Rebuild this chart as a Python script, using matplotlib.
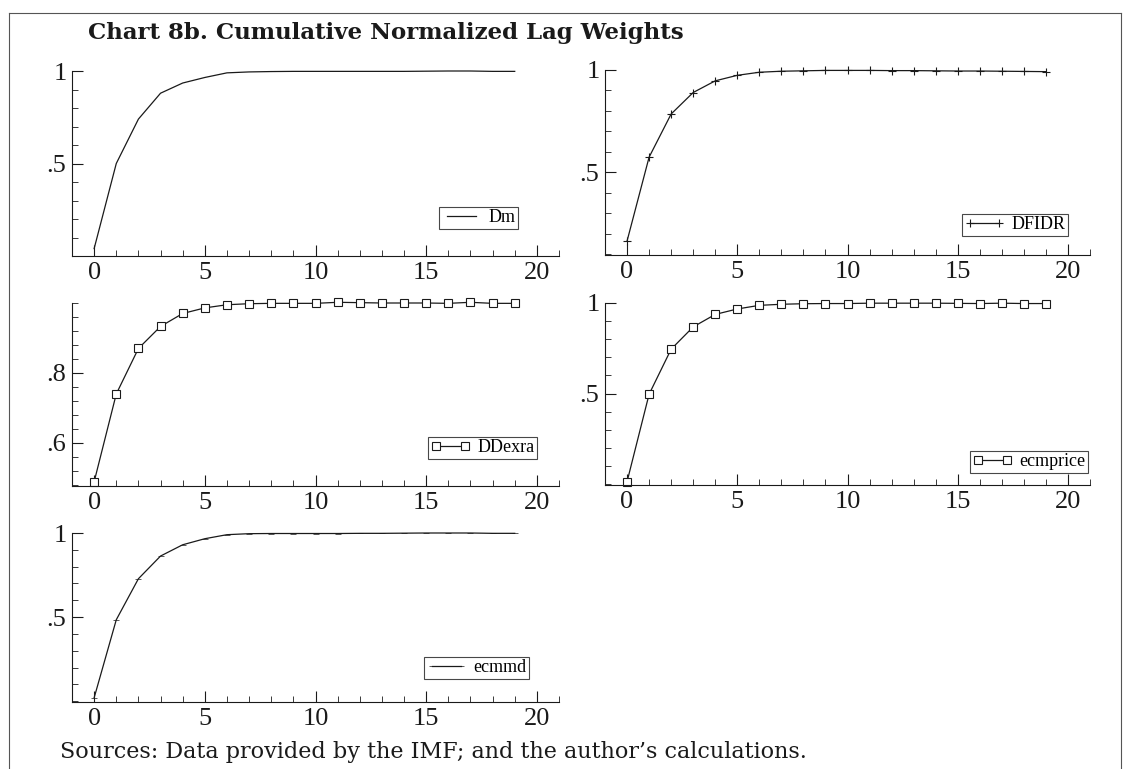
import numpy as np
import matplotlib
matplotlib.use("Agg")
import matplotlib.pyplot as plt
from matplotlib.ticker import MultipleLocator, FixedLocator
from matplotlib.lines import Line2D

lags = list(range(20))

dm = [0.04, 0.50, 0.74, 0.88, 0.935, 0.965, 0.99, 0.995, 0.997, 0.998,
      0.998, 0.998, 0.998, 0.998, 0.998, 0.999, 1.0, 1.0, 0.998, 0.998]
dfidr = [0.164, 0.574, 0.785, 0.89, 0.947, 0.974, 0.989, 0.994, 0.996, 0.998,
         0.998, 0.998, 0.997, 0.997, 0.996, 0.995, 0.995, 0.994, 0.993, 0.992]
ddexra = [0.489, 0.74, 0.870, 0.933, 0.970, 0.986, 0.995, 0.998, 0.999, 0.999,
          0.999, 1.002, 1.001, 1.0, 1.0, 1.0, 0.999, 1.002, 0.999, 0.999]
ecmprice = [0.013, 0.496, 0.745, 0.868, 0.937, 0.967, 0.987, 0.993, 0.996, 0.997,
            0.997, 0.999, 0.999, 0.999, 0.999, 0.998, 0.997, 0.999, 0.997, 0.997]
ecmmd = [0.02, 0.484, 0.728, 0.863, 0.93, 0.966, 0.99, 0.996, 0.997, 0.997,
         0.997, 0.997, 0.998, 0.998, 0.999, 1.0, 1.0, 1.0, 0.998, 0.998]

W, H = 1127, 769
fig = plt.figure(figsize=(W / 100, H / 100), dpi=100)
fig.patch.set_facecolor("white")

tickfont = "Liberation Serif"
ink = "#1a1a1a"


def px_axes(x0, x1, ytop, ybot):
    return fig.add_axes([x0 / W, 1 - ybot / H, (x1 - x0) / W, (ybot - ytop) / H])


# name, data, marker, pixel box, ylim, major ticks, tick labels, minor step, legend corner (px)
panels = [
    ("Dm", dm, None, (72, 559, 71, 256), (0.0, 1.0), [0.5, 1.0], [".5", "1"], 0.1, (518, 229)),
    ("DFIDR", dfidr, "+", (605, 1090, 70, 255), (0.096, 1.0), [0.5, 1.0], [".5", "1"], 0.1, (1068, 236)),
    ("DDexra", ddexra, "s", (72, 559, 303, 486), (0.477, 1.0), [0.6, 0.8], [".6", ".8"], 0.04, (537, 459)),
    ("ecmprice", ecmprice, "s", (605, 1090, 303, 485), (-0.005, 1.0), [0.5, 1.0], [".5", "1"], 0.1, (1088, 473)),
    ("ecmmd", ecmmd, "_", (72, 559, 533, 702), (-0.005, 1.0), [0.5, 1.0], [".5", "1"], 0.1, (529, 679)),
]

for name, vals, mk, box, ylim, yt, ytl, ystep, leg in panels:
    x0, x1, ytop, ybot = box
    ax = px_axes(x0, x1, ytop, ybot)
    kw = dict(color=ink, lw=0.9, label=name, clip_on=False)
    if mk == "s":
        kw.update(marker="s", ms=5.5, mfc="white", mec=ink, mew=0.8)
    elif mk == "+":
        kw.update(marker="+", ms=6, mew=0.8)
    elif mk == "_":
        kw.update(marker="_", ms=4.5, mew=0.5)
    ax.plot(lags, vals, **kw)

    ax.set_xlim(-1, 21)
    ax.set_ylim(*ylim)
    for s in ("top", "right"):
        ax.spines[s].set_visible(False)
    for s in ("left", "bottom"):
        ax.spines[s].set_linewidth(0.8)
        ax.spines[s].set_color(ink)

    ax.set_xticks([0, 5, 10, 15, 20])
    ax.xaxis.set_minor_locator(MultipleLocator(1))
    ax.set_yticks(yt)
    ax.set_yticklabels(ytl)
    lo = np.ceil((ylim[0] - 0.6) / ystep) * ystep + 0.6
    ax.yaxis.set_minor_locator(FixedLocator(np.arange(lo, ylim[1] + 1e-6, ystep)))

    ax.tick_params(which="both", direction="in", color=ink)
    ax.tick_params(which="major", length=8, width=0.8, labelsize=19, pad=4)
    ax.tick_params(which="minor", length=4, width=0.6)
    for lab in ax.get_xticklabels() + ax.get_yticklabels():
        lab.set_family(tickfont)
        lab.set_color(ink)

    # legend anchored by its lower-right corner in pixel coordinates
    lx = (leg[0] - x0) / (x1 - x0)
    ly = (ybot - leg[1]) / (ybot - ytop)
    lg = ax.legend(loc="lower right", bbox_to_anchor=(lx, ly), frameon=True,
                   fancybox=False, edgecolor=ink, borderpad=0.15, borderaxespad=0,
                   handlelength=2.2, handletextpad=0.4, numpoints=2,
                   prop={"family": tickfont, "size": 13})
    lg.get_frame().set_linewidth(0.8)

fig.text(88 / W, 1 - 33 / H, "Chart 8b. Cumulative Normalized Lag Weights",
         family="DejaVu Serif", weight="bold", size=16.5, va="center", ha="left", color=ink)
fig.text(60 / W, 1 - 752 / H, "Sources: Data provided by the IMF; and the author\u2019s calculations.",
         family="DejaVu Serif", size=16, va="center", ha="left", color=ink)

# page frame
fig.add_artist(Line2D([9 / W, 9 / W], [0, 1 - 13 / H], color="#555", lw=0.8))
fig.add_artist(Line2D([9 / W, 1121 / W], [1 - 13 / H, 1 - 13 / H], color="#555", lw=0.8))
fig.add_artist(Line2D([1121 / W, 1121 / W], [0, 1 - 13 / H], color="#555", lw=0.8))

fig.savefig("out.png", dpi=100, facecolor="white")
